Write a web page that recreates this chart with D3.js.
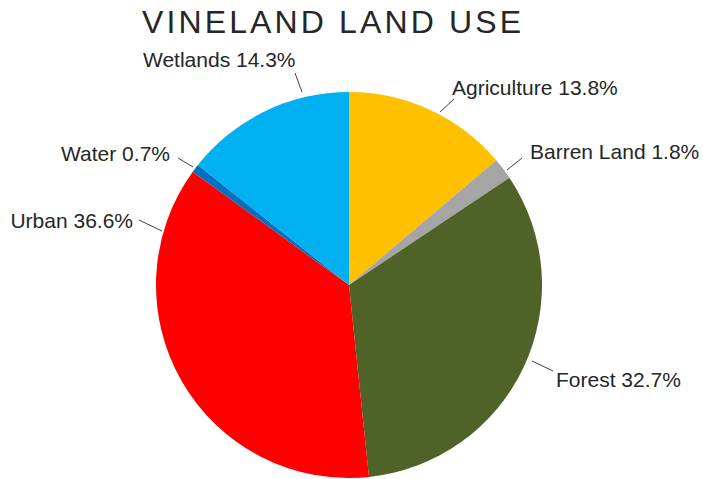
<!DOCTYPE html>
<html>
<head>
<meta charset="utf-8">
<script src="https://cdn.jsdelivr.net/npm/d3@7"></script>
<style>
    body { margin: 0; background: #fff; }
    svg { display: block; }
</style>
</head>
<body>
<svg id="chart" width="703" height="479"></svg>
<script>
const categories = ["Agriculture", "Barren Land", "Forest", "Urban", "Water", "Wetlands"];
const shares = [13.8, 1.8, 32.7, 36.6, 0.7, 14.3];
const sliceColors = ["#ffc000", "#a5a5a5", "#4f6228", "#ff0000", "#0070c0", "#00b0f0"];

// label placement (manually moved labels, as in the original)
const labelLayout = [
    { x: 452, y: 95, anchor: "start", line: [[440, 112], [454, 99]] },
    { x: 530, y: 159, anchor: "start", line: [[507, 170], [522, 158]] },
    { x: 556, y: 387, anchor: "start", line: [[532, 361], [553, 371]] },
    { x: 133, y: 228, anchor: "end", line: [[162, 231], [139, 220]] },
    { x: 170, y: 161, anchor: "end", line: [[193, 167], [178, 158]] },
    { x: 143, y: 67, anchor: "start", line: [[302, 92], [295, 73]] }
];

const svg = d3.select("#chart");
const cx = 349;
const cy = 285;
const radius = 193;

svg.append("text")
    .attr("x", 142)
    .attr("y", 33)
    .attr("font-family", "Liberation Sans, Arial, sans-serif")
    .attr("font-size", 32)
    .attr("fill", "#262626")
    .attr("textLength", 379)
    .attr("lengthAdjust", "spacing")
    .text("VINELAND LAND USE");

const pie = d3.pie().sort(null).value(function(d) { return d; });
const arc = d3.arc().innerRadius(0).outerRadius(radius);

const pieGroup = svg.append("g")
    .attr("transform", "translate(" + cx + ", " + cy + ")");

pieGroup.selectAll("path")
    .data(pie(shares))
    .join("path")
    .attr("d", arc)
    .attr("fill", function(d, i) { return sliceColors[i]; });

const labels = svg.append("g");

labelLayout.forEach(function(lab, i) {
    labels.append("line")
        .attr("x1", lab.line[0][0])
        .attr("y1", lab.line[0][1])
        .attr("x2", lab.line[1][0])
        .attr("y2", lab.line[1][1])
        .attr("stroke", "#404040")
        .attr("stroke-width", 1);

    labels.append("text")
        .attr("x", lab.x)
        .attr("y", lab.y)
        .attr("text-anchor", lab.anchor)
        .attr("font-family", "Liberation Sans, Arial, sans-serif")
        .attr("font-size", 21)
        .attr("fill", "#262626")
        .text(categories[i] + " " + shares[i].toFixed(1) + "%");
});
</script>
</body>
</html>
